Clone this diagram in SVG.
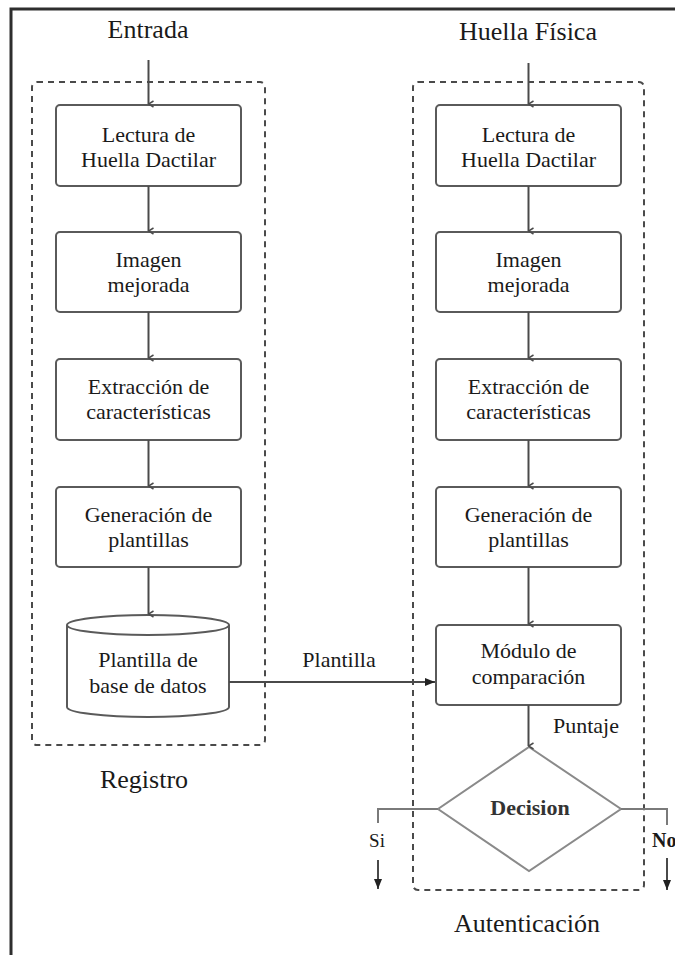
<svg xmlns="http://www.w3.org/2000/svg" width="675" height="955" viewBox="0 0 675 955">
  <style>
    text { font-family: "Liberation Serif", "Times New Roman", serif; fill: #1a1a1a; text-anchor: middle; }
    .title { font-size: 26px; }
    .lbl { font-size: 22px; }
    .box { fill: #ffffff; stroke: #5a5a5a; stroke-width: 2; }
    .diamond { fill: #ffffff; stroke: #8a8a8a; stroke-width: 2; }
    .group { fill: none; stroke: #4a4a4a; stroke-width: 2; stroke-dasharray: 6 5; }
    .wire { fill: none; stroke: #4a4a4a; stroke-width: 2; }
    .branch { fill: none; stroke: #7a7a7a; stroke-width: 2; }
    .frame { fill: none; stroke: #2e2e2e; stroke-width: 3; }
  </style>
  <defs>
    <marker id="tip" markerWidth="8" markerHeight="8" refX="4" refY="7" orient="auto-start-reverse" markerUnits="userSpaceOnUse" viewBox="0 0 8 8">
      <path d="M1,2 L4,7 L7,2" fill="none" stroke="#4a4a4a" stroke-width="1.5"/>
    </marker>
    <marker id="solid" markerWidth="10" markerHeight="8" refX="10" refY="4" orient="auto" markerUnits="userSpaceOnUse" viewBox="0 0 10 8">
      <path d="M0,0 L10,4 L0,8 Z" fill="#222"/>
    </marker>
  </defs>

  <rect width="675" height="955" fill="#ffffff"/>

  <!-- outer frame: only top and left edges are visible -->
  <path class="frame" d="M11,960 L11,9 L680,9"/>

  <!-- dashed stage groups -->
  <g id="registro">
    <rect class="group" x="32" y="82" width="233" height="663" rx="5"/>
    <text class="title" x="144" y="788">Registro</text>
  </g>
  <g id="autenticacion">
    <rect class="group" x="413" y="82" width="231" height="808" rx="5"/>
    <text class="title" x="527" y="932">Autenticación</text>
  </g>

  <!-- titles of the inputs -->
  <g id="entrada"><text class="title" x="148" y="38">Entrada</text></g>
  <g id="huella-fisica"><text class="title" x="528" y="40">Huella Física</text></g>

  <!-- enrolment column -->
  <g id="r-lectura">
    <rect class="box" x="56" y="105" width="185" height="81" rx="4"/>
    <text class="lbl" x="148.5" y="142">Lectura de</text>
    <text class="lbl" x="148.5" y="167">Huella Dactilar</text>
  </g>
  <g id="r-imagen">
    <rect class="box" x="56" y="232" width="185" height="80" rx="4"/>
    <text class="lbl" x="148.5" y="267">Imagen</text>
    <text class="lbl" x="148.5" y="292">mejorada</text>
  </g>
  <g id="r-extraccion">
    <rect class="box" x="56" y="359" width="185" height="81" rx="4"/>
    <text class="lbl" x="148.5" y="394">Extracción de</text>
    <text class="lbl" x="148.5" y="419">características</text>
  </g>
  <g id="r-generacion">
    <rect class="box" x="56" y="487" width="185" height="80" rx="4"/>
    <text class="lbl" x="148.5" y="522">Generación de</text>
    <text class="lbl" x="148.5" y="547">plantillas</text>
  </g>
  <g id="r-base-datos">
    <path class="box" d="M67,625 L67,707 A81,10 0 0 0 229,707 L229,625 A81,10 0 0 0 67,625 Z"/>
    <path class="box" d="M67,625 A81,10 0 0 0 229,625" fill="none"/>
    <text class="lbl" x="148" y="667">Plantilla de</text>
    <text class="lbl" x="148" y="693">base de datos</text>
  </g>

  <!-- authentication column -->
  <g id="a-lectura">
    <rect class="box" x="436" y="105" width="185" height="81" rx="4"/>
    <text class="lbl" x="528.5" y="142">Lectura de</text>
    <text class="lbl" x="528.5" y="167">Huella Dactilar</text>
  </g>
  <g id="a-imagen">
    <rect class="box" x="436" y="232" width="185" height="80" rx="4"/>
    <text class="lbl" x="528.5" y="267">Imagen</text>
    <text class="lbl" x="528.5" y="292">mejorada</text>
  </g>
  <g id="a-extraccion">
    <rect class="box" x="436" y="359" width="185" height="81" rx="4"/>
    <text class="lbl" x="528.5" y="394">Extracción de</text>
    <text class="lbl" x="528.5" y="419">características</text>
  </g>
  <g id="a-generacion">
    <rect class="box" x="436" y="487" width="185" height="80" rx="4"/>
    <text class="lbl" x="528.5" y="522">Generación de</text>
    <text class="lbl" x="528.5" y="547">plantillas</text>
  </g>
  <g id="a-comparacion">
    <rect class="box" x="436" y="625" width="185" height="80" rx="4"/>
    <text class="lbl" x="528.5" y="658">Módulo de</text>
    <text class="lbl" x="528.5" y="684">comparación</text>
  </g>
  <g id="a-decision">
    <path class="diamond" d="M529,747 L621,809 L529,871 L438,809 Z"/>
    <text x="530" y="815" style="font-size:22px;font-weight:bold;fill:#333">Decision</text>
  </g>

  <!-- connectors -->
  <g id="connectors">
    <line class="wire" x1="148.5" y1="60" x2="148.5" y2="104" marker-end="url(#tip)"/>
    <line class="wire" x1="148.5" y1="186" x2="148.5" y2="231" marker-end="url(#tip)"/>
    <line class="wire" x1="148.5" y1="312" x2="148.5" y2="358" marker-end="url(#tip)"/>
    <line class="wire" x1="148.5" y1="440" x2="148.5" y2="486" marker-end="url(#tip)"/>
    <line class="wire" x1="148.5" y1="567" x2="148.5" y2="614" marker-end="url(#tip)"/>

    <line class="wire" x1="528.5" y1="63" x2="528.5" y2="104" marker-end="url(#tip)"/>
    <line class="wire" x1="528.5" y1="186" x2="528.5" y2="231" marker-end="url(#tip)"/>
    <line class="wire" x1="528.5" y1="312" x2="528.5" y2="358" marker-end="url(#tip)"/>
    <line class="wire" x1="528.5" y1="440" x2="528.5" y2="486" marker-end="url(#tip)"/>
    <line class="wire" x1="528.5" y1="567" x2="528.5" y2="624" marker-end="url(#tip)"/>
    <line class="wire" x1="528.5" y1="705" x2="528.5" y2="746" marker-end="url(#tip)"/>

    <!-- template hand-over -->
    <line class="wire" x1="229" y1="682" x2="435" y2="682" marker-end="url(#solid)"/>
    <text class="lbl" x="339" y="667">Plantilla</text>
    <text class="lbl" x="586" y="733">Puntaje</text>

    <!-- decision outcomes -->
    <path class="branch" d="M438,809 L378,809 L378,823"/>
    <text x="377" y="847" style="font-size:19px">Si</text>
    <line class="wire" x1="378" y1="860" x2="378" y2="889" marker-end="url(#solid)"/>

    <path class="branch" d="M621,809 L667,809 L667,825"/>
    <text x="652" y="847" style="font-size:20px;font-weight:bold;text-anchor:start">No</text>
    <line class="wire" x1="667" y1="858" x2="667" y2="890" marker-end="url(#solid)"/>
  </g>
</svg>
